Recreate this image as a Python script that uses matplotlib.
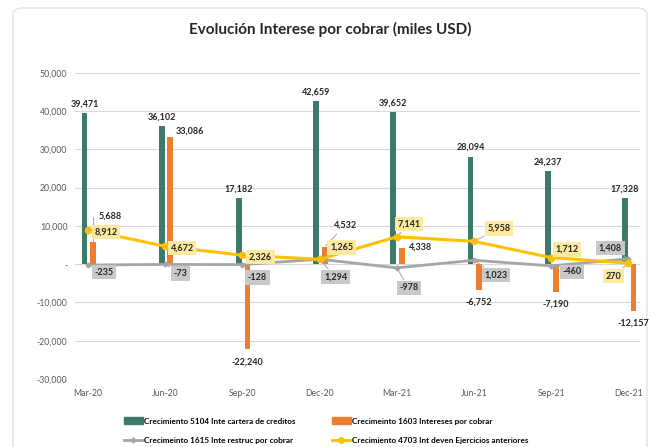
import matplotlib
matplotlib.use("Agg")
import matplotlib.pyplot as plt
from matplotlib.patches import FancyBboxPatch, Patch
from matplotlib.lines import Line2D
import numpy as np

plt.rcParams['font.family'] = ['Lato', 'DejaVu Sans']

categories = ["Mar-20", "Jun-20", "Sep-20", "Dec-20", "Mar-21", "Jun-21", "Sep-21", "Dec-21"]
cartera = [39471, 36102, 17182, 42659, 39652, 28094, 24237, 17328]
intereses = [5688, 33086, -22240, 4532, 4338, -6752, -7190, -12157]
restruc = [-235, -73, -128, 1294, -978, 1023, -460, 1408]
ejercicios = [8912, 4672, 2326, 1265, 7141, 5958, 1712, 270]

labels = ["Crecimiento 5104 Inte cartera de creditos",
          "Crecimeinto 1603 Intereses por cobrar",
          "Crecimeinto 1615 Inte restruc por cobrar",
          "Crecimiento 4703 Int deven Ejercicios anteriores"]

C_GREEN = "#3e7a6b"
C_ORANGE = "#ed7d31"
C_GRAY = "#a5a5a5"
C_YELLOW = "#ffc000"

W, H = 651, 447
fig = plt.figure(figsize=(W / 100, H / 100), dpi=100)

# card
card = FancyBboxPatch((13 / W, -0.05), (647 - 13) / W, 1 - 8 / H + 0.05,
                      boxstyle="round,pad=0,rounding_size=0.015",
                      transform=fig.transFigure, facecolor="white",
                      edgecolor="#e3e3e3", linewidth=1.0, zorder=-5)
fig.patches.append(card)

fig.text(330 / W, 1 - 29 / H, "Evolución Interese por cobrar (miles USD)",
         ha="center", va="center", fontsize=11, fontweight="bold", color="#262626")

left, right, top, bottom = 75, 640, 72.7, 379
ax = fig.add_axes([left / W, 1 - bottom / H, (right - left) / W, (bottom - top) / H])
ax.set_facecolor("none")
ax.set_zorder(2)

x = np.arange(len(categories))
bw = 0.075
ax.bar(x - 0.045, cartera, width=bw, color=C_GREEN, zorder=2)
ax.bar(x + 0.065, intereses, width=bw, color=C_ORANGE, zorder=2)
ax.plot(x, restruc, color=C_GRAY, lw=2, marker="D", ms=2.5, zorder=3)
ax.plot(x, ejercicios, color=C_YELLOW, lw=2.2, marker="o", ms=4.5, zorder=4)

ax.set_xlim(-0.168, 7.15)
ax.set_ylim(-30000, 50000)
yt = np.arange(-30000, 50001, 10000)
ax.set_yticks(yt)
ax.set_yticklabels(["-" if v == 0 else f"{v:,}" for v in yt])
ax.set_xticks(x)
ax.set_xticklabels(categories)
ax.tick_params(axis="both", length=0, labelsize=6.3, labelcolor="#595959")
ax.tick_params(axis="y", pad=5.5)
ax.tick_params(axis="x", pad=7)
ax.grid(axis="y", color="#d9d9d9", lw=0.8, zorder=0)
for s in ax.spines.values():
    s.set_visible(False)

px = dict(textcoords="offset pixels", ha="center", va="center", fontsize=6.5,
          fontweight="bold", color="#262626", zorder=6)

# green labels
for i, v in enumerate(cartera):
    ax.annotate(f"{v:,}", (i - 0.045, v), xytext=(0, 9), **px)

# orange labels
o_off = [(17, 26), (20, 6), (0, -13), (21, 22), (19, 0), (0, -12), (0, -12), (0, -12)]
o_lead = ["angle", "line", None, "line", None, None, None, None]
for i, v in enumerate(intereses):
    kw = dict(px)
    if o_lead[i] == "angle":
        kw["arrowprops"] = dict(arrowstyle="-", color="#a6a6a6", lw=0.7,
                                connectionstyle="angle,angleA=0,angleB=90,rad=0",
                                shrinkA=2, shrinkB=1)
    elif o_lead[i] == "line":
        kw["arrowprops"] = dict(arrowstyle="-", color="#a6a6a6", lw=0.7,
                                shrinkA=2, shrinkB=1)
    ax.annotate(f"{v:,}", (i + 0.065, v), xytext=o_off[i], **kw)

box_g = dict(boxstyle="square,pad=0.3", fc="#c8c8c8", ec="none")
box_y = dict(boxstyle="square,pad=0.3", fc="#fde9a0", ec="none")

g_off = [(16, -7), (15, -9), (15, -13), (16, -18), (12, -20), (22, -15), (21, -6), (-18, 11)]
for i, v in enumerate(restruc):
    kw = dict(px)
    kw["arrowprops"] = dict(arrowstyle="-", color="#a6a6a6", lw=0.7, shrinkA=1, shrinkB=2)
    ax.annotate(f"{v:,}", (i, v), xytext=g_off[i], bbox=box_g, **kw)

y_off = [(18, -2), (17, -2), (18, -2), (22, 12), (12, 13), (25, 13), (16, 8), (-15, -13)]
for i, v in enumerate(ejercicios):
    kw = dict(px)
    kw["arrowprops"] = dict(arrowstyle="-", color="#a6a6a6", lw=0.7, shrinkA=1, shrinkB=3)
    ax.annotate(f"{v:,}", (i, v), xytext=y_off[i], bbox=box_y, **kw)

handles = [Patch(color=C_GREEN), Patch(color=C_ORANGE),
           Line2D([], [], color=C_GRAY, lw=2, marker="D", ms=2.5),
           Line2D([], [], color=C_YELLOW, lw=2, marker="o", ms=4)]
pos = [(124, 421), (332, 421), (124, 440), (332, 440)]
for h, lab, (lx, ly) in zip(handles, labels, pos):
    fig.legend([h], [lab], loc="center left", bbox_to_anchor=(lx / W, 1 - ly / H),
               frameon=False, handlelength=2.3, handleheight=0.9,
               handletextpad=0.1, borderaxespad=0, borderpad=0,
               prop=dict(weight="bold", size=5.9))

fig.savefig("out.png", dpi=100)
